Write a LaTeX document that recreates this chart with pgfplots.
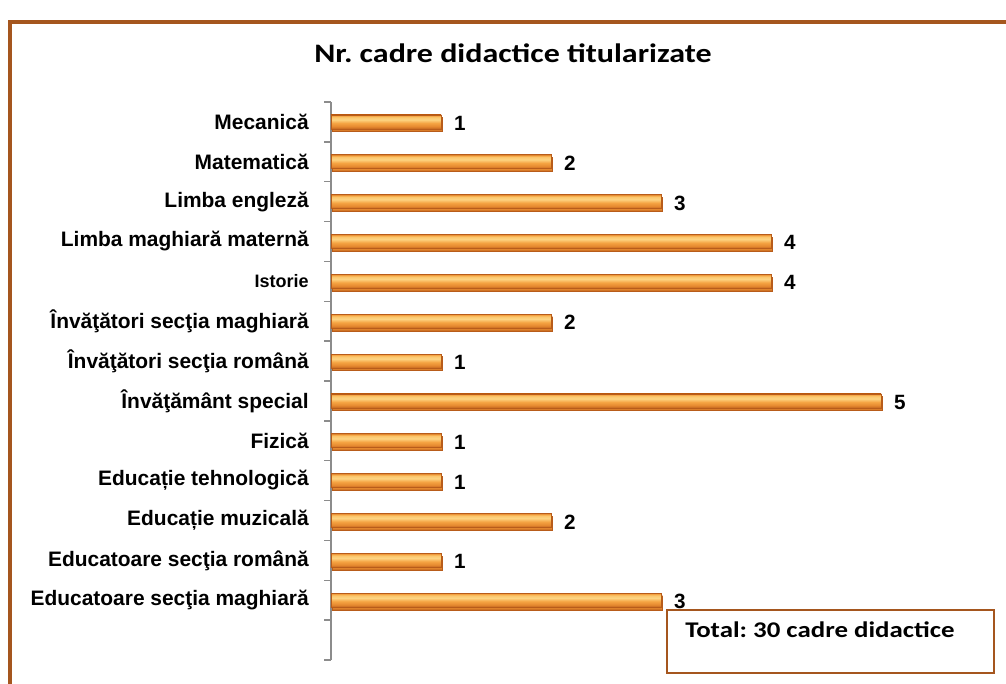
\documentclass[border=0pt]{standalone}
\usepackage{fontspec}
\setmainfont{Liberation Sans}
\newfontfamily\carlito[FakeStretch=1.2]{Carlito}
\usepackage{pgfplots}
\pgfplotsset{compat=1.18}
\frenchspacing

\definecolor{frame}{HTML}{A5561E}
\definecolor{axgray}{HTML}{8C8C8C}
\definecolor{bD}{HTML}{C2651E}
\definecolor{bD2}{HTML}{E68A30}
\definecolor{bM}{HTML}{F5A443}
\definecolor{bL}{HTML}{FDD482}
\definecolor{bL2}{HTML}{FBC66C}
\definecolor{bT}{HTML}{D9802A}
\definecolor{bedge}{HTML}{B85C1A}
\pgfdeclareverticalshading{barshade}{100bp}{color(0bp)=(bD); color(25bp)=(bD); color(34bp)=(bD2); color(46bp)=(bM); color(58bp)=(bL); color(67bp)=(bL2); color(72bp)=(bM); color(75bp)=(bT); color(100bp)=(bT)}

\pgfplotsset{
    onebar/.style={draw=bedge, line width=0.5pt, shading=barshade, bar shift=0pt,
        preaction={fill=black!13, transform canvas={xshift=1pt, yshift=-2pt}}},
}

\begin{document}
\begin{tikzpicture}
\useasboundingbox (0pt,0pt) rectangle (754.5pt,-513pt);
\fill[white] (0pt,0pt) rectangle (754.5pt,-513pt);
% outer frame (cut by the page on the right and bottom)
\draw[frame, line width=3pt] (7.5pt,-16.5pt) rectangle (800pt,-560pt);

\node[font=\carlito\bfseries\fontsize{20}{24}\selectfont] at (384.75pt,-40pt) {Nr. cadre didactice titularizate};

\begin{axis}[
    at={(248.25pt,-495pt)}, anchor=south west,
    scale only axis,
    width=495pt, height=418.5pt,
    xbar, bar width=10.5pt,
    xmin=0, xmax=6,
    ymin=-0.5, ymax=13.5,
    axis x line=none,
    axis y line*=left,
    axis line style={draw=axgray, line width=1pt},
    ytick={1,...,13},
    yticklabels={Educatoare secţia maghiară, Educatoare secţia română, Educație muzicală, Educație tehnologică, Fizică, Învăţământ special, Învăţători secţia română, Învăţători secţia maghiară, {\fontsize{13.5}{16}\selectfont Istorie}, Limba maghiară maternă, Limba engleză, Matematică, Mecanică},
    minor ytick={-0.5,0.5,...,13.5},
    tick align=outside,
    major tick length=0pt,
    minor tick length=5pt,
    minor tick style={draw=axgray, line width=1pt},
    yticklabel style={font=\bfseries\fontsize{15.7}{18}\selectfont, anchor=east, inner sep=0pt, xshift=-16.5pt},
    /pgf/number format/assume math mode=true,
    nodes near coords,
    nodes near coords style={font=\bfseries\fontsize{15.5}{18}\selectfont, anchor=west, inner sep=0pt, xshift=9.5pt, yshift=-1pt, text=black},
    clip=false,
]
\addplot[onebar] coordinates {(3,1)};  % Educatoare secţia maghiară
\addplot[onebar] coordinates {(1,2)};  % Educatoare secţia română
\addplot[onebar] coordinates {(2,3)};  % Educație muzicală
\addplot[onebar] coordinates {(1,4)};  % Educație tehnologică
\addplot[onebar] coordinates {(1,5)};  % Fizică
\addplot[onebar] coordinates {(5,6)};  % Învăţământ special
\addplot[onebar] coordinates {(1,7)};  % Învăţători secţia română
\addplot[onebar] coordinates {(2,8)};  % Învăţători secţia maghiară
\addplot[onebar] coordinates {(4,9)};  % Istorie
\addplot[onebar] coordinates {(4,10)}; % Limba maghiară maternă
\addplot[onebar] coordinates {(3,11)}; % Limba engleză
\addplot[onebar] coordinates {(2,12)}; % Matematică
\addplot[onebar] coordinates {(1,13)}; % Mecanică
\end{axis}

\draw[frame, line width=1.1pt, fill=white] (500.25pt,-457.5pt) rectangle (745.5pt,-504.75pt);
\node[anchor=base west, inner sep=0pt, font=\carlito\bfseries\fontsize{16.8}{20}\selectfont] at (513.75pt,-477.75pt) {Total: 30 cadre didactice};
\end{tikzpicture}
\end{document}
